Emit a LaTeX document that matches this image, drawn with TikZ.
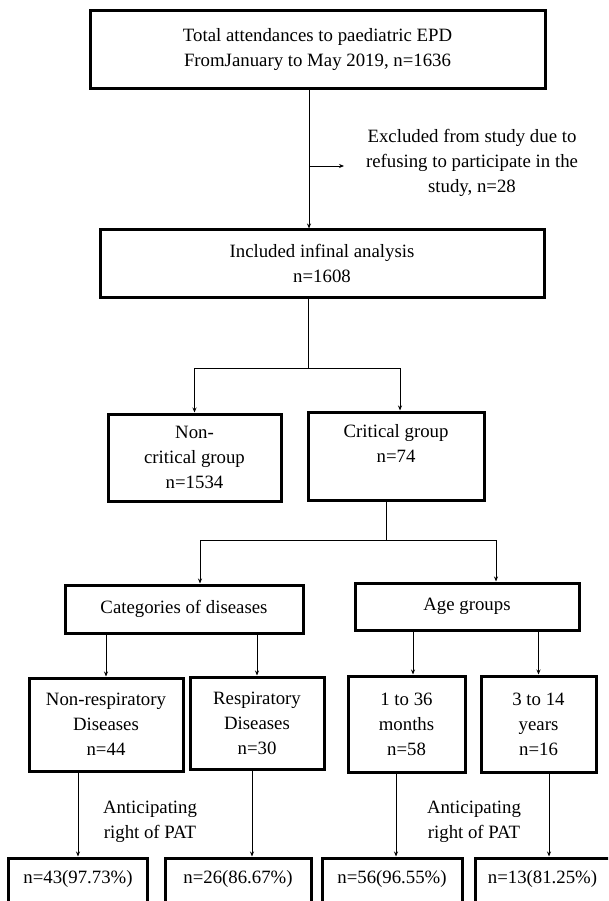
\documentclass[tikz,border=0pt]{standalone}
\usepackage{fontspec}
\setmainfont{Liberation Serif}
\usepackage{tikz}
\usetikzlibrary{arrows.meta}

\begin{document}
\begin{tikzpicture}[x=1pt,y=-1pt,
    box/.style={draw,line width=3pt,align=center,inner sep=0pt,font=\fontsize{18.8}{25}\selectfont},
    txt/.style={align=center,inner sep=0pt,font=\fontsize{18.8}{25}\selectfont},
    line/.style={line width=0.8pt},
    >={Stealth[length=5pt,width=4pt]}]
    \useasboundingbox (0,0) rectangle (608,901);
    \clip (0,0) rectangle (608,901);

    % boxes
    \node[box,minimum width=455pt,minimum height=78pt] (total) at (317.5,50) {Total attendances to paediatric EPD\\FromJanuary to May 2019, n=1636};
    \node[txt] (excl) at (472,163) {Excluded from study due to\\refusing to participate in the\\study, n=28};
    \node[box,minimum width=444pt,minimum height=67pt] (incl) at (322,263.5) {Included infinal analysis\\n=1608};
    \node[box,minimum width=173pt,minimum height=87pt] (noncrit) at (194.5,457.5) {Non-\\critical group\\n=1534};
    \node[box,minimum width=176pt,minimum height=88pt] (crit) at (396,456) {Critical group\\n=74\\~};
    \node[box,minimum width=238pt,minimum height=48pt] (cat) at (184,609) {Categories of diseases};
    \node[box,minimum width=224pt,minimum height=47pt] (age) at (467,606.5) {Age groups};
    \node[box,minimum width=154pt,minimum height=93pt] (nonresp) at (106,724.5) {Non-respiratory\\Diseases\\n=44};
    \node[box,minimum width=134pt,minimum height=92pt] (resp) at (257,723) {Respiratory\\Diseases\\n=30};
    \node[box,minimum width=117pt,minimum height=96pt] (m1to36) at (406.5,724) {1 to 36\\months\\n=58};
    \node[box,minimum width=115pt,minimum height=96pt] (y3to14) at (538.5,724) {3 to 14\\years\\n=16};
    \node[txt] (ant1) at (150,822) {Anticipating\\right of PAT};
    \node[txt] (ant2) at (474,822) {Anticipating\\right of PAT};
    \node[box,minimum width=139.5pt,minimum height=62pt] (r1) at (78,889) {n=43(97.73\%)\\~};
    \node[box,minimum width=146pt,minimum height=62pt] (r2) at (238,889) {n=26(86.67\%)\\~};
    \node[box,minimum width=140pt,minimum height=62pt] (r3) at (392,889) {n=56(96.55\%)\\~};
    \node[box,minimum width=135pt,minimum height=62pt] (r4) at (542.5,889) {n=13(81.25\%)\\~};

    % connectors
    \coordinate (cut) at (309,166);
    \coordinate (cutend) at (344,166);
    \coordinate (split1) at (308,368);
    \coordinate (split2) at (386,540);
    \coordinate (split2l) at (200,540);
    \coordinate (split2r) at (496,540);
    \coordinate (x3) at (413,0);
    \coordinate (xr2) at (252,0);
    \coordinate (xr3) at (396,0);
    \coordinate (xr4) at (549,0);

    \draw[line,->] (total.south -| cut) -- (incl.north -| cut);
    \draw[line,->] (cut) -- (cutend);
    \draw[line] (incl.south -| split1) -- (split1);
    \draw[line,->] (split1) -| (noncrit.north);
    \draw[line,->] (split1) -| ([xshift=4pt]crit.north);
    \draw[line] (crit.south -| split2) -- (split2);
    \draw[line] (split2l) -- (split2r);
    \draw[line,->] (split2l) -- (split2l |- cat.north);
    \draw[line,->] (split2r) -- (split2r |- age.north);
    \draw[line,->] (cat.south -| nonresp.north) -- (nonresp.north);
    \draw[line,->] (cat.south -| resp.north) -- (resp.north);
    \draw[line,->] (age.south -| x3) -- (m1to36.north -| x3);
    \draw[line,->] (age.south -| y3to14.north) -- (y3to14.north);
    \draw[line,->] (nonresp.south -| r1.north) -- (r1.north);
    \draw[line,->] (resp.south -| xr2) -- (r2.north -| xr2);
    \draw[line,->] (m1to36.south -| xr3) -- (r3.north -| xr3);
    \draw[line,->] (y3to14.south -| xr4) -- (r4.north -| xr4);
\end{tikzpicture}
\end{document}
